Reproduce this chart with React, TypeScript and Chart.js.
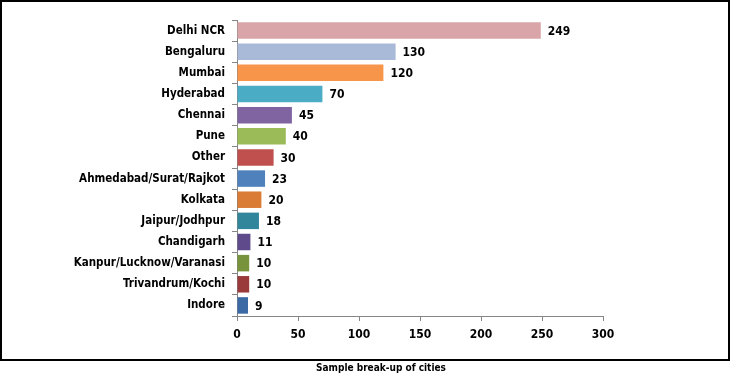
import React, { useEffect, useRef } from "react";
import { Chart, registerables } from "chart.js";

Chart.register(...registerables);

const categories = [
  "Delhi NCR",
  "Bengaluru",
  "Mumbai",
  "Hyderabad",
  "Chennai",
  "Pune",
  "Other",
  "Ahmedabad/Surat/Rajkot",
  "Kolkata",
  "Jaipur/Jodhpur",
  "Chandigarh",
  "Kanpur/Lucknow/Varanasi",
  "Trivandrum/Kochi",
  "Indore",
];
const values = [249, 130, 120, 70, 45, 40, 30, 23, 20, 18, 11, 10, 10, 9];
const barColors = [
  "#D9A5A8",
  "#A9B9D8",
  "#F7964A",
  "#4BACC6",
  "#8064A2",
  "#9BBB59",
  "#C0504D",
  "#4F81BD",
  "#DA7B36",
  "#31869B",
  "#5F4B8B",
  "#77933C",
  "#9B3A3A",
  "#3C6AA5",
];
const xTicks = [0, 50, 100, 150, 200, 250, 300];
const chartTitle = "Sample break-up of cities";

const FONT = "'DejaVu Sans Condensed', 'DejaVu Sans', Verdana, sans-serif";

export default function App() {
  const canvasRef = useRef<HTMLCanvasElement | null>(null);

  useEffect(() => {
    if (!canvasRef.current) return;

    const labelsPlugin = {
      id: "valueLabels",
      afterDatasetsDraw(chart: any) {
        const ctx = chart.ctx;
        const meta = chart.getDatasetMeta(0);
        ctx.save();
        ctx.font = `bold 12px ${FONT}`;
        ctx.fillStyle = "#000";
        ctx.textAlign = "left";
        ctx.textBaseline = "middle";
        meta.data.forEach((bar: any, i: number) => {
          ctx.fillText(String(values[i]), bar.x + 7, bar.y + 1);
        });
        ctx.restore();
      },
    };

    const titlePlugin = {
      id: "bottomTitle",
      afterDraw(chart: any) {
        const ctx = chart.ctx;
        ctx.save();
        ctx.font = `bold 10px ${FONT}`;
        ctx.fillStyle = "#000";
        ctx.textAlign = "center";
        ctx.textBaseline = "middle";
        ctx.fillText(chartTitle, 381, 368);
        ctx.restore();
      },
    };

    const chart = new Chart(canvasRef.current, {
      type: "bar",
      data: {
        labels: categories,
        datasets: [
          {
            data: values,
            backgroundColor: barColors,
            borderWidth: 0,
            barPercentage: 0.78,
            categoryPercentage: 1,
          },
        ],
      },
      options: {
        indexAxis: "y",
        animation: false,
        responsive: false,
        maintainAspectRatio: false,
        layout: { padding: { left: 0, top: 20, right: 127, bottom: 0 } },
        plugins: {
          legend: { display: false },
          tooltip: { enabled: false },
          title: { display: false },
        },
        scales: {
          x: {
            min: 0,
            max: 300,
            afterBuildTicks(scale: any) {
              scale.ticks = xTicks.map((v) => ({ value: v }));
            },
            afterFit(scale: any) {
              scale.height = 61;
            },
            grid: {
              drawOnChartArea: false,
              drawTicks: true,
              tickLength: 5,
              color: "#868686",
            },
            border: { display: true, color: "#868686", width: 1 },
            ticks: {
              color: "#000",
              font: { family: FONT, size: 12, weight: "bold" },
              padding: 7,
              maxRotation: 0,
            },
          },
          y: {
            afterFit(scale: any) {
              scale.width = 237;
            },
            grid: {
              drawOnChartArea: false,
              drawTicks: true,
              tickLength: 5,
              color: "#868686",
              offset: true,
            },
            border: { display: true, color: "#868686", width: 1 },
            ticks: {
              color: "#000",
              font: { family: FONT, size: 11.5, weight: "bold" },
              padding: 7,
              autoSkip: false,
            },
          },
        },
      },
      plugins: [labelsPlugin, titlePlugin],
    });

    return () => chart.destroy();
  }, []);

  return (
    <div
      style={{
        position: "fixed",
        left: 0,
        top: 0,
        width: 730,
        height: 377,
        background: "#fff",
      }}
    >
      <canvas
        ref={canvasRef}
        width={730}
        height={377}
        style={{ position: "absolute", left: 0, top: 0, width: 730, height: 377 }}
      />
      <div
        style={{
          position: "absolute",
          left: 0,
          top: 0,
          width: 730,
          height: 361,
          boxSizing: "border-box",
          border: "2px solid #000",
          pointerEvents: "none",
        }}
      />
    </div>
  );
}
